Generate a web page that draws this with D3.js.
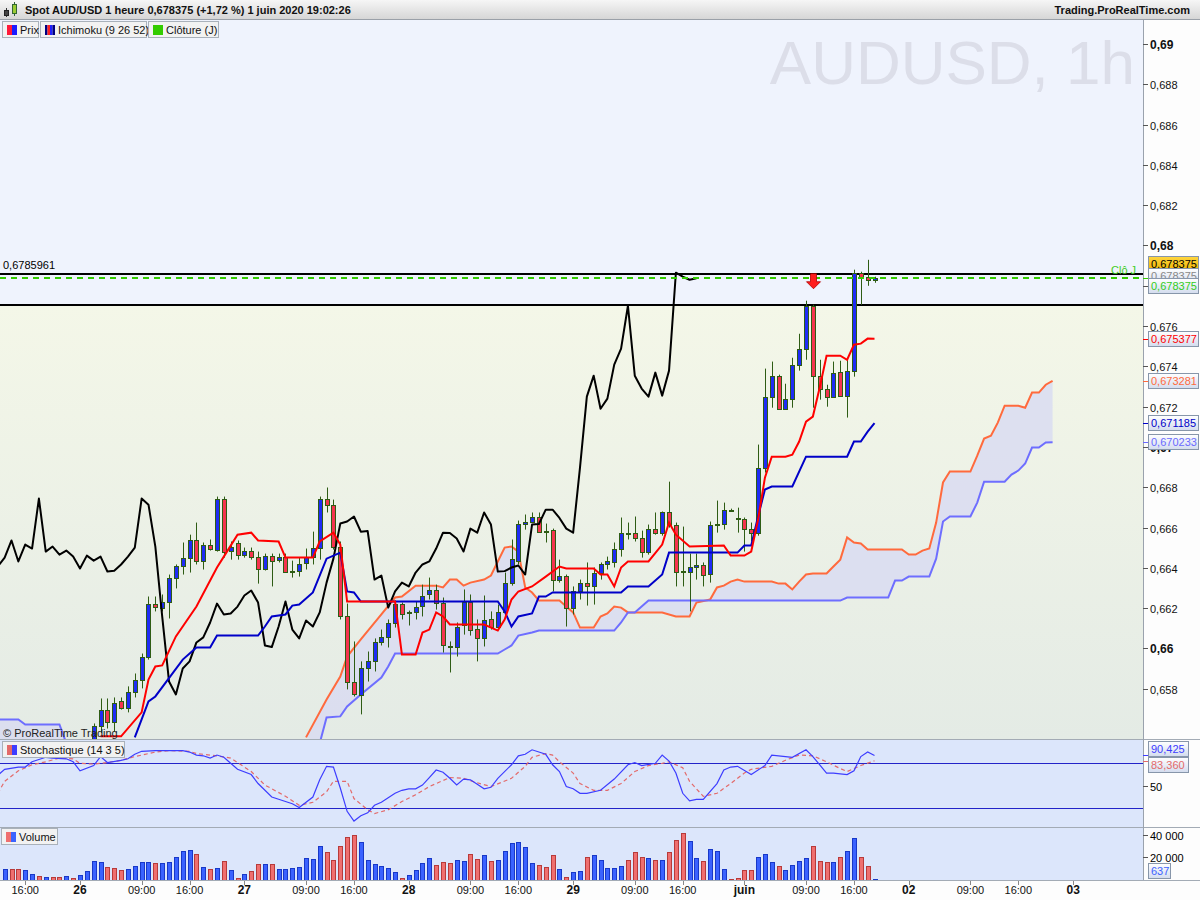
<!DOCTYPE html>
<html>
<head>
<meta charset="utf-8">
<script src="https://cdn.jsdelivr.net/npm/d3@7"></script>
<style>
body { margin: 0; background: #fff; }
svg text { font-family: "Liberation Sans", Arial, sans-serif; }
</style>
</head>
<body>
<script>
// hourly bars, index 0 = 26 May 00:00
var firstBar = 2;
var open = [0.65524,0.65613,0.65697,0.65633,0.65737,0.65707,0.65782,0.65846,0.65960,0.66223,
0.66203,0.66233,0.66352,0.66407,0.66451,0.66536,0.66432,0.66516,0.66491,0.66744,
0.66486,0.66526,0.66466,0.66486,0.66456,0.66397,0.66461,0.66441,0.66456,0.66387,
0.66387,0.66422,0.66456,0.66501,0.66744,0.66714,0.66506,0.66159,0.65836,0.65767,
0.65901,0.65936,0.66030,0.66055,0.66129,0.66223,0.66179,0.66179,0.66213,0.66268,
0.66288,0.66228,0.66010,0.66005,0.66119,0.66233,0.66099,0.66050,0.66144,0.66109,
0.66179,0.66327,0.66432,0.66620,0.66630,0.66655,0.66585,0.66590,0.66342,0.66362,
0.66203,0.66283,0.66327,0.66308,0.66377,0.66417,0.66427,0.66496,0.66575,0.66575,
0.66546,0.66481,0.66595,0.66575,0.66675,0.66615,0.66387,0.66382,0.66402,0.66412,
0.66372,0.66620,0.66620,0.66689,0.66650,0.66645,0.66595,0.66575,0.66898,0.67250,
0.67354,0.67190,0.67240,0.67409,0.67488,0.67701,0.67354,0.67290,0.67250,0.67374,
0.67255,0.67379,0.67865,0.67845,0.67830];
var high = [0.65628,0.65752,0.65752,0.65757,0.65757,0.65812,0.65876,0.65975,0.66258,0.66258,
0.66268,0.66367,0.66417,0.66526,0.66565,0.66625,0.66526,0.66541,0.66754,0.66754,
0.66531,0.66536,0.66501,0.66501,0.66481,0.66471,0.66471,0.66471,0.66471,0.66436,
0.66451,0.66496,0.66580,0.66754,0.66799,0.66739,0.66531,0.66223,0.66035,0.65936,
0.65985,0.66050,0.66094,0.66144,0.66238,0.66228,0.66188,0.66233,0.66317,0.66352,
0.66317,0.66253,0.66035,0.66129,0.66293,0.66268,0.66144,0.66263,0.66184,0.66218,
0.66377,0.66541,0.66635,0.66665,0.66675,0.66675,0.66620,0.66595,0.66441,0.66367,
0.66308,0.66342,0.66427,0.66402,0.66427,0.66456,0.66526,0.66650,0.66625,0.66655,
0.66585,0.66615,0.66675,0.66680,0.66828,0.66625,0.66605,0.66471,0.66471,0.66427,
0.66630,0.66734,0.66724,0.66694,0.66699,0.66650,0.66625,0.67012,0.67389,0.67424,
0.67359,0.67314,0.67443,0.67562,0.67726,0.67706,0.67433,0.67309,0.67424,0.67428,
0.67443,0.67880,0.67870,0.67929,0.67845];
var low = [0.65489,0.65583,0.65603,0.65588,0.65697,0.65683,0.65757,0.65802,0.65945,0.66184,
0.66184,0.66149,0.66298,0.66367,0.66377,0.66417,0.66392,0.66486,0.66481,0.66451,
0.66441,0.66441,0.66451,0.66441,0.66322,0.66387,0.66308,0.66427,0.66377,0.66352,
0.66357,0.66392,0.66417,0.66441,0.66675,0.66491,0.66144,0.65797,0.65762,0.65673,
0.65836,0.65886,0.66015,0.66005,0.66104,0.66144,0.66114,0.66144,0.66159,0.66243,
0.66193,0.65980,0.65881,0.65960,0.66069,0.66064,0.65936,0.66010,0.66094,0.66099,
0.66149,0.66312,0.66417,0.66590,0.66625,0.66575,0.66526,0.66283,0.66327,0.66109,
0.66169,0.66243,0.66213,0.66218,0.66342,0.66392,0.66402,0.66456,0.66541,0.66531,
0.66451,0.66466,0.66565,0.66560,0.66600,0.66308,0.66308,0.66184,0.66342,0.66308,
0.66327,0.66575,0.66590,0.66684,0.66575,0.66481,0.66531,0.66560,0.66873,0.67195,
0.67185,0.67185,0.67195,0.67379,0.67433,0.67195,0.67235,0.67200,0.67245,0.67250,
0.67146,0.67349,0.67706,0.67800,0.67815];
var close = [0.65613,0.65697,0.65633,0.65732,0.65707,0.65782,0.65846,0.65960,0.66223,0.66208,
0.66233,0.66352,0.66407,0.66451,0.66536,0.66432,0.66516,0.66496,0.66744,0.66481,
0.66506,0.66466,0.66486,0.66456,0.66397,0.66461,0.66436,0.66456,0.66382,0.66386,
0.66417,0.66456,0.66501,0.66744,0.66714,0.66506,0.66159,0.65836,0.65772,0.65901,
0.65936,0.66030,0.66055,0.66129,0.66223,0.66169,0.66174,0.66208,0.66263,0.66288,
0.66228,0.66015,0.66007,0.66109,0.66233,0.66094,0.66050,0.66139,0.66109,0.66179,
0.66327,0.66446,0.66620,0.66630,0.66655,0.66580,0.66583,0.66342,0.66362,0.66203,
0.66283,0.66327,0.66308,0.66377,0.66417,0.66432,0.66496,0.66575,0.66573,0.66546,
0.66481,0.66595,0.66575,0.66675,0.66615,0.66382,0.66384,0.66402,0.66412,0.66367,
0.66615,0.66618,0.66689,0.66689,0.66648,0.66595,0.66575,0.66898,0.67250,0.67354,
0.67190,0.67240,0.67409,0.67488,0.67701,0.67354,0.67290,0.67250,0.67369,0.67255,
0.67379,0.67865,0.67845,0.67830,0.678375];

// Ichimoku (9 26 52), vertices as [bar, price]
var tenkan = [[3,0.65564],[6,0.65564],[9,0.65683],[10,0.65846],[11,0.65911],[12,0.65916],[14,0.66060],[17,0.66208],
[20,0.66402],[21,0.66456],[23,0.66565],[25,0.66575],[26,0.66536],[29,0.66531],[30,0.66451],[34,0.66451],[35,0.66531],
[37,0.66575],[38,0.66516],[39,0.66233],[46,0.66233],[47,0.65970],[49,0.65970],[50,0.66079],[51,0.66094],[52,0.66179],
[53,0.66159],[54,0.66119],[59,0.66119],[61,0.66089],[62,0.66144],[63,0.66243],[64,0.66283],[66,0.66308],[68,0.66357],
[70,0.66407],[71,0.66397],[75,0.66397],[76,0.66367],[77,0.66367],[78,0.66308],[79,0.66402],[80,0.66432],[83,0.66432],
[85,0.66516],[86,0.66625],[87,0.66565],[89,0.66506],[94,0.66511],[95,0.66461],[97,0.66461],[98,0.66481],[99,0.66640],
[100,0.66848],[101,0.66952],[103,0.66952],[104,0.66962],[105,0.67027],[106,0.67126],[107,0.67151],[108,0.67295],
[109,0.67453],[111,0.67453],[112,0.67433],[113,0.67508],[114,0.67513],[115,0.67538],[116,0.675377]];
var kijun = [[8,0.65559],[10,0.65737],[11,0.65762],[15,0.65945],[17,0.66005],[19,0.66005],[20,0.66064],[26,0.66064],
[27,0.66109],[28,0.66159],[30,0.66169],[31,0.66213],[32,0.66218],[34,0.66278],[36,0.66446],[38,0.66476],[39,0.66283],
[40,0.66278],[41,0.66233],[61,0.66233],[62,0.66184],[63,0.66109],[64,0.66159],[66,0.66174],[67,0.66258],[68,0.66258],
[69,0.66278],[79,0.66278],[80,0.66308],[83,0.66308],[85,0.66367],[86,0.66476],[96,0.66476],[97,0.66511],[98,0.66511],
[99,0.66655],[100,0.66789],[101,0.66804],[104,0.66804],[106,0.66952],[112,0.66952],[113,0.67027],[114,0.67027],
[115,0.67076],[116,0.671185]];
var senkouA = [[33,0.65559],[36,0.65747],[38,0.65861],[39,0.65960],[41,0.66045],[44,0.66169],[46,0.66253],[47,0.66258],
[49,0.66312],[52,0.66312],[53,0.66303],[54,0.66342],[55,0.66342],[56,0.66312],[57,0.66327],[59,0.66342],[60,0.66362],
[61,0.66432],[62,0.66501],[63,0.66506],[64,0.66481],[65,0.66303],[66,0.66278],[67,0.66238],[70,0.66238],[71,0.66208],
[72,0.66179],[73,0.66104],[75,0.66104],[76,0.66159],[77,0.66174],[78,0.66208],[79,0.66203],[80,0.66179],[85,0.66179],
[87,0.66159],[89,0.66159],[90,0.66228],[92,0.66243],[93,0.66303],[94,0.66312],[95,0.66332],[96,0.66342],[97,0.66332],
[101,0.66332],[102,0.66322],[103,0.66322],[104,0.66293],[105,0.66332],[106,0.66367],[107,0.66372],[109,0.66372],
[110,0.66407],[111,0.66441],[112,0.66551],[113,0.66526],[114,0.66521],[115,0.66491],[120,0.66491],[121,0.66466],
[122,0.66466],[123,0.66486],[124,0.66496],[125,0.66625],[126,0.66824],[127,0.66878],[130,0.66878],[131,0.66957],
[132,0.67042],[133,0.67056],[134,0.67121],[135,0.67205],[137,0.67205],[138,0.67195],[139,0.67270],[140,0.67270],
[141,0.67309],[142,0.673281]];
var senkouBEarly = [[-12,0.65648],[-9,0.65648],[-8,0.65623],[-3,0.65623],[-2,0.65530]];
var senkouB = [[35,0.65530],[36,0.65658],[38,0.65663],[39,0.65712],[41,0.65772],[44,0.65856],[45,0.65911],[46,0.65975],
[61,0.65975],[62,0.65995],[63,0.66015],[64,0.66064],[66,0.66079],[67,0.66089],[78,0.66089],[79,0.66129],[80,0.66179],
[81,0.66179],[82,0.66208],[83,0.66238],[111,0.66238],[112,0.66253],[118,0.66253],[119,0.66337],[120,0.66337],
[121,0.66357],[124,0.66357],[125,0.66446],[126,0.66630],[127,0.66655],[130,0.66655],[131,0.66724],[132,0.66828],
[135,0.66828],[136,0.66863],[137,0.66883],[138,0.66918],[139,0.66997],[140,0.66997],[141,0.67022],[142,0.670233]];
var chikouShift = 26;

// horizontal levels and signal
var resistanceHigh = 0.6785961;
var resistanceLow = 0.67705;
var dailyClose = 0.678375;
var sellSignals = [107];

// Stochastique (14 3 5)
var stochK = [[-12,64],[-11,72],[-9,75],[-8,75],[-7,82],[-5,88],[-4,87],[-2,86],[-1,82],[0,70],[2,77],[3,89],[4,81],
[6,84],[7,86],[8,92],[9,96],[11,97],[13,97],[15,97],[16,95],[17,91],[18,90],[19,87],[20,91],[21,88],[22,80],[23,72],
[25,65],[26,53],[28,35],[29,32],[31,26],[32,21],[34,35],[35,58],[36,76],[37,75],[38,47],[39,16],[40,3],[41,10],[42,14],
[43,24],[44,28],[45,34],[46,40],[47,44],[48,46],[49,46],[50,51],[51,61],[52,71],[53,68],[54,60],[55,51],[56,59],[57,58],
[58,52],[59,46],[60,48],[61,60],[63,78],[64,90],[65,92],[66,98],[67,95],[68,92],[69,78],[70,69],[71,49],[72,46],[73,40],
[74,40],[76,44],[78,59],[80,78],[81,81],[82,77],[84,80],[85,91],[86,83],[87,67],[88,40],[89,30],[90,32],[91,32],[93,53],
[94,71],[95,75],[96,76],[98,65],[100,77],[101,91],[103,89],[104,88],[106,98],[107,89],[109,67],[110,67],[112,65],
[113,70],[114,89],[115,95],[116,90.425]];
var stochD = [[-12,40],[-11,56],[-9,70],[-7,78],[-5,82],[-3,87],[-1,86],[0,80],[2,79],[4,81],[6,84],[8,89],[11,95],
[13,97],[16,96],[17,93],[20,90],[22,87],[23,81],[25,69],[27,51],[30,36],[32,24],[34,28],[36,42],[37,56],[39,56],[40,33],
[42,18],[43,13],[45,18],[47,29],[49,38],[51,49],[54,61],[56,60],[58,54],[60,49],[63,60],[65,76],[66,88],[68,93],[69,91],
[70,82],[72,67],[73,53],[75,44],[77,44],[79,53],[81,69],[83,77],[85,80],[86,82],[88,74],[89,56],[91,36],[93,40],[95,53],
[97,67],[98,72],[101,76],[103,84],[105,91],[107,90],[109,82],[111,73],[112,69],[114,77],[116,83.36]];

// volume, bars -11 .. 116
var volStart = -11;
var volume = [9500,9500,9500,8600,4700,2900,2000,2000,2000,2900,1100,3800,7400,
16400,15500,11000,10100,8300,9200,11900,15500,15500,14600,14600,15500,20000,25400,26300,22700,
11000,9200,10100,16400,8300,1100,4700,7400,13700,13700,13700,9200,9200,10100,11000,19100,
18200,29800,24500,17300,29800,37900,39700,33400,17300,13700,11900,10100,6500,1100,3800,8300,
14600,19100,12800,15500,14600,17300,16400,22700,18200,21800,16400,17300,25400,32500,33400,28900,
14600,12800,11000,21800,9200,2000,6500,7400,20000,21800,17300,10100,10100,11900,17300,24500,
20000,19100,17300,17300,24500,35200,41500,34300,19100,16400,27200,25400,9200,300,1400,8300,
8300,20000,22700,15500,11900,8300,12800,16400,19100,29800,16400,15500,15500,20000,25400,37000,
20000,11900,637];
var volumeDir = "UDDUUDUDDUDUU" + "UUDDDUUUUD" + "UUUUUDUDUD" + "UDUDDUDUUU" + "UUUUDDDDDU" +
  "UUUUUDUUUU" + "DDDUUDDUDU" + "UUUUUDDDUD" + "UUDUUUUUDD" + "DUDUDDDUUD" + "UUUDDDDUUU" +
  "DUUUUDDDUD" + "UUDDU";

// time axis labels
var xLabels = [[-8,"16:00"],[0,"26"],[9,"09:00"],[16,"16:00"],[24,"27"],[33,"09:00"],[40,"16:00"],
[48,"28"],[57,"09:00"],[64,"16:00"],[72,"29"],[81,"09:00"],[88,"16:00"],[97,"juin"],[106,"09:00"],
[113,"16:00"],[121,"02"],[130,"09:00"],[137,"16:00"],[145,"03"]];
var priceTicks = d3.range(0.658, 0.6901, 0.002);
var volTicks = [20000, 40000];

function graph(){
	var width = 1200, height = 900, plotW = 1143;
	var price = {top: 20, bottom: 739},
		stoch = {top: 740, bottom: 827},
		vol = {top: 828, bottom: 880};

	var x = d3.scaleLinear().domain([-11.68, 155.2]).range([0, plotW]);
	var y = d3.scaleLinear().domain([0.658, 0.69]).range([688.8, 44]);
	var yStoch = d3.scaleLinear().domain([0, 100]).range([823.3, 748.3]);
	var yVol = d3.scaleLinear().domain([0, 40000]).range([879.6, 835]);

	var comma = function(v){ return String(+v.toFixed(3)).replace(".", ","); };
	var px = function(i){ return Math.round(x(i)) + 0.5; };

	var svg = d3.select("body")
				.append("svg")
				.attr("width", width)
				.attr("height", height);
	var defs = svg.append("defs");

	var g1 = defs.append("linearGradient").attr("id", "gPrice")
		.attr("gradientUnits", "userSpaceOnUse").attr("x1", 0).attr("x2", 0)
		.attr("y1", y(resistanceLow)).attr("y2", price.bottom);
	g1.append("stop").attr("offset", 0).attr("stop-color", "#f4f7e8");
	g1.append("stop").attr("offset", 1).attr("stop-color", "#e4ebe5");
	var g2 = defs.append("linearGradient").attr("id", "gHead").attr("x1", 0).attr("x2", 0).attr("y1", 0).attr("y2", 1);
	g2.append("stop").attr("offset", 0).attr("stop-color", "#f6f6f6");
	g2.append("stop").attr("offset", 1).attr("stop-color", "#d6d6d6");
	var g3 = defs.append("linearGradient").attr("id", "gBox").attr("x1", 0).attr("x2", 0).attr("y1", 0).attr("y2", 1);
	g3.append("stop").attr("offset", 0).attr("stop-color", "#ffffff");
	g3.append("stop").attr("offset", 1).attr("stop-color", "#d3dcee");
	var g4 = defs.append("linearGradient").attr("id", "gGold").attr("x1", 0).attr("x2", 0).attr("y1", 0).attr("y2", 1);
	g4.append("stop").attr("offset", 0).attr("stop-color", "#ffd640");
	g4.append("stop").attr("offset", 1).attr("stop-color", "#eeb400");

	function clip(id, top, bottom){
		defs.append("clipPath").attr("id", id).append("rect")
			.attr("x", 0).attr("y", top).attr("width", plotW).attr("height", bottom - top);
	}
	clip("cPrice", price.top, price.bottom);
	clip("cStoch", stoch.top, stoch.bottom);
	clip("cVol", vol.top, vol.bottom);

	// backgrounds
	svg.append("rect").attr("width", width).attr("height", height).attr("fill", "#fdfdfd");
	svg.append("rect").attr("x", 0).attr("y", price.top).attr("width", plotW)
		.attr("height", price.bottom - price.top).attr("fill", "url(#gPrice)");
	svg.append("rect").attr("x", 0).attr("y", price.top).attr("width", plotW)
		.attr("height", y(resistanceLow) - price.top).attr("fill", "#eff3fd");
	svg.append("rect").attr("x", 0).attr("y", stoch.top).attr("width", plotW)
		.attr("height", stoch.bottom - stoch.top).attr("fill", "#dce6fb");
	svg.append("rect").attr("x", 0).attr("y", vol.top).attr("width", plotW)
		.attr("height", vol.bottom - vol.top).attr("fill", "#dce6fb");

	// watermark
	svg.append("text").attr("x", 1135).attr("y", 84).attr("text-anchor", "end")
		.attr("font-size", 62).attr("fill", "#dcdee9").text("AUDUSD, 1h");

	// ---------- price panel ----------
	var gp = svg.append("g").attr("clip-path", "url(#cPrice)");
	var line = d3.line().x(function(d){ return x(d[0]); }).y(function(d){ return y(d[1]); });

	// kumo
	var bottomPx = price.bottom + 10;
	var cloudPts = senkouA.concat(senkouB.slice().reverse()).map(function(d){ return [x(d[0]), y(d[1])]; });
	var earlyPts = senkouBEarly.map(function(d){ return [x(d[0]), y(d[1])]; });
	earlyPts.push([x(senkouBEarly[senkouBEarly.length - 1][0]), bottomPx], [x(senkouBEarly[0][0]), bottomPx]);
	[cloudPts, earlyPts].forEach(function(p){
		gp.append("path").attr("d", d3.line()(p) + "Z")
			.attr("fill", "#d9dcf1").attr("fill-opacity", 0.85);
	});
	gp.append("path").datum(senkouA).attr("d", line).attr("fill", "none")
		.attr("stroke", "#ff6a3d").attr("stroke-width", 2);
	[senkouBEarly, senkouB].forEach(function(s){
		gp.append("path").datum(s).attr("d", line).attr("fill", "none")
			.attr("stroke", "#6e6eff").attr("stroke-width", 2);
	});

	// levels
	[resistanceHigh, resistanceLow].forEach(function(v){
		gp.append("line").attr("x1", 0).attr("x2", plotW)
			.attr("y1", Math.round(y(v))).attr("y2", Math.round(y(v)))
			.attr("stroke", "#000").attr("stroke-width", 2);
	});

	// candles
	var bars = close.map(function(c, k){
		return {i: firstBar + k, o: open[k], h: high[k], l: low[k], c: c};
	});
	gp.selectAll(".wick").data(bars).enter().append("line")
		.attr("x1", function(d){ return px(d.i); })
		.attr("x2", function(d){ return px(d.i); })
		.attr("y1", function(d){ return y(d.h); })
		.attr("y2", function(d){ return y(d.l); })
		.attr("stroke", "#2e5c14").attr("stroke-width", 1);
	gp.selectAll(".body").data(bars).enter().append("rect")
		.attr("x", function(d){ return px(d.i) - 2; })
		.attr("width", 4)
		.attr("y", function(d){ return Math.round(y(Math.max(d.o, d.c))) + 0.5; })
		.attr("height", function(d){
			return Math.max(1, Math.round(y(Math.min(d.o, d.c))) - Math.round(y(Math.max(d.o, d.c))));
		})
		.attr("fill", function(d){ return d.c >= d.o ? "#1f2cf5" : "#f5344f"; })
		.attr("stroke", "#2e5c14").attr("stroke-width", 1);

	// tenkan, kijun, chikou
	var chikou = bars.map(function(d){ return [d.i - chikouShift, d.c]; })
		.filter(function(d){ return d[0] >= -12; });
	gp.append("path").datum(chikou).attr("d", line).attr("fill", "none")
		.attr("stroke", "#000").attr("stroke-width", 2).attr("stroke-linejoin", "round");
	gp.append("path").datum(kijun).attr("d", line).attr("fill", "none")
		.attr("stroke", "#0000c8").attr("stroke-width", 2);
	gp.append("path").datum(tenkan).attr("d", line).attr("fill", "none")
		.attr("stroke", "#ff0000").attr("stroke-width", 2);

	// daily close
	gp.append("line").attr("x1", 0).attr("x2", plotW)
		.attr("y1", Math.round(y(dailyClose))).attr("y2", Math.round(y(dailyClose)))
		.attr("stroke", "#33cc00").attr("stroke-width", 2).attr("stroke-dasharray", "6,5");
	svg.append("text").attr("x", 1111).attr("y", y(dailyClose) - 4)
		.attr("font-size", 11).attr("fill", "#44cc22").text("Clô J");

	// sell arrow
	sellSignals.forEach(function(i){
		var bar = bars[i - firstBar];
		var cx = px(i), tip = y(bar.h) - 16;
		gp.append("path")
			.attr("d", "M" + (cx - 3) + "," + (tip - 15) + "h6v8h4l-7,7l-7,-7h4z")
			.attr("fill", "#ff1e1e").attr("stroke", "#b00000").attr("stroke-width", 0.8);
	});

	svg.append("text").attr("x", 3).attr("y", y(resistanceHigh) - 5)
		.attr("font-size", 11).attr("fill", "#000").text(resistanceHigh.toFixed(7).replace(".", ","));
	svg.append("text").attr("x", 3).attr("y", 737)
		.attr("font-size", 11).attr("fill", "#222").text("© ProRealTime Trading");

	// ---------- stochastic ----------
	var gs = svg.append("g").attr("clip-path", "url(#cStoch)");
	[80, 20].forEach(function(v){
		gs.append("line").attr("x1", 0).attr("x2", plotW)
			.attr("y1", Math.round(yStoch(v)) + 0.5).attr("y2", Math.round(yStoch(v)) + 0.5)
			.attr("stroke", "#2323c8").attr("stroke-width", 1);
	});
	var sline = d3.line().x(function(d){ return x(d[0]); }).y(function(d){ return yStoch(d[1]); });
	gs.append("path").datum(stochD).attr("d", sline).attr("fill", "none")
		.attr("stroke", "#e36a6a").attr("stroke-width", 1.2).attr("stroke-dasharray", "4,3");
	gs.append("path").datum(stochK).attr("d", sline).attr("fill", "none")
		.attr("stroke", "#3d3dff").attr("stroke-width", 1.2);

	// ---------- volume ----------
	var gv = svg.append("g").attr("clip-path", "url(#cVol)");
	var vbars = volume.map(function(v, k){ return {i: volStart + k, v: v, up: volumeDir[k] === "U"}; });
	gv.selectAll(".vol").data(vbars).enter().append("rect")
		.attr("x", function(d){ return px(d.i) - 2; })
		.attr("width", 4)
		.attr("y", function(d){ return Math.round(yVol(d.v)) + 0.5; })
		.attr("height", function(d){ return Math.max(0.5, Math.round(yVol(0)) - Math.round(yVol(d.v))); })
		.attr("fill", function(d){ return d.up ? "#3a62ff" : "#ef6f6f"; })
		.attr("stroke", function(d){ return d.up ? "#1838c8" : "#b83a3a"; })
		.attr("stroke-width", 1);

	// ---------- panel frames ----------
	[price.bottom, stoch.bottom, vol.bottom].forEach(function(v){
		svg.append("line").attr("x1", 0).attr("x2", width).attr("y1", v + 0.5).attr("y2", v + 0.5)
			.attr("stroke", "#a3abb5").attr("stroke-width", 1);
	});
	svg.append("line").attr("x1", plotW + 0.5).attr("x2", plotW + 0.5).attr("y1", price.top).attr("y2", vol.bottom)
		.attr("stroke", "#9aa2ad").attr("stroke-width", 1);

	// right price axis (0,678 sits under the price tags, as in the original)
	var gy = svg.append("g");
	priceTicks.forEach(function(v){
		var major = Math.abs(v * 100 - Math.round(v * 100)) < 1e-6;
		var yy = Math.round(y(v)) + 0.5;
		gy.append("line").attr("x1", plotW).attr("x2", plotW + 5).attr("y1", yy).attr("y2", yy)
			.attr("stroke", "#555");
		if (Math.abs(v - 0.678) < 1e-6) return;
		gy.append("text").attr("x", plotW + 7).attr("y", yy + 4).attr("font-size", major ? 12 : 11)
			.attr("font-weight", major ? "bold" : "normal").attr("fill", "#111").text(comma(v));
	});

	function tag(value, dy, color, fill, txt){
		var yy = Math.round(y(value)) + dy;
		gy.append("line").attr("x1", plotW).attr("x2", plotW + 5).attr("y1", Math.round(y(value)) + 0.5)
			.attr("y2", Math.round(y(value)) + 0.5).attr("stroke", color);
		gy.append("rect").attr("x", plotW + 5.5).attr("y", yy - 7.5).attr("width", 50).attr("height", 15)
			.attr("fill", fill).attr("stroke", "#8796aa").attr("stroke-width", 1);
		gy.append("text").attr("x", plotW + 8).attr("y", yy + 4).attr("font-size", 11)
			.attr("fill", txt).text(value.toFixed(6).replace(".", ","));
	}
	var lastA = senkouA[senkouA.length - 1][1], lastB = senkouB[senkouB.length - 1][1];
	var lastT = tenkan[tenkan.length - 1][1], lastK = kijun[kijun.length - 1][1];
	var lastC = close[close.length - 1];
	tag(lastC, -14, "#c89a00", "url(#gGold)", "#000");
	tag(lastC, -2, "#888", "url(#gBox)", "#888");
	tag(dailyClose, 8, "#33cc00", "url(#gBox)", "#33cc22");
	tag(lastT, 0, "#ff0000", "url(#gBox)", "#ff0000");
	tag(lastA, 0, "#ff6a3d", "url(#gBox)", "#ff6a3d");
	tag(lastK, 0, "#0000c8", "url(#gBox)", "#0000c8");
	tag(lastB, 0, "#6a6aff", "url(#gBox)", "#6a6aff");

	// stochastic axis
	var y50 = Math.round(yStoch(50)) + 0.5;
	gy.append("line").attr("x1", plotW).attr("x2", plotW + 5).attr("y1", y50).attr("y2", y50).attr("stroke", "#555");
	gy.append("text").attr("x", plotW + 7).attr("y", y50 + 4).attr("font-size", 11).text("50");
	function stag(value, yy, color){
		gy.append("line").attr("x1", plotW).attr("x2", plotW + 5).attr("y1", Math.round(yStoch(value)) + 0.5)
			.attr("y2", Math.round(yStoch(value)) + 0.5).attr("stroke", color);
		gy.append("rect").attr("x", plotW + 5.5).attr("y", yy - 7.5).attr("width", 40).attr("height", 15)
			.attr("fill", "url(#gBox)").attr("stroke", "#8796aa");
		gy.append("text").attr("x", plotW + 8).attr("y", yy + 4).attr("font-size", 11)
			.attr("fill", color).text(value.toFixed(3).replace(".", ","));
	}
	var kLast = stochK[stochK.length - 1][1], dLast = stochD[stochD.length - 1][1];
	stag(kLast, Math.round(yStoch(kLast)) - 6, "#3d3dff");
	stag(dLast, Math.round(yStoch(kLast)) + 10, "#e36a6a");

	// volume axis
	var vfmt = d3.formatLocale({decimal: ",", thousands: " ", grouping: [3], currency: ["", ""]}).format(",d");
	volTicks.forEach(function(v){
		var yy = Math.round(yVol(v)) + 0.5;
		gy.append("line").attr("x1", plotW).attr("x2", plotW + 5).attr("y1", yy).attr("y2", yy).attr("stroke", "#555");
		gy.append("text").attr("x", plotW + 7).attr("y", yy + 4).attr("font-size", 11).text(vfmt(v));
	});
	var vLast = volume[volume.length - 1];
	gy.append("rect").attr("x", plotW + 5.5).attr("y", 863.5).attr("width", 22).attr("height", 15)
		.attr("fill", "url(#gBox)").attr("stroke", "#8796aa");
	gy.append("text").attr("x", plotW + 8).attr("y", 875).attr("font-size", 11).attr("fill", "#3d62ff").text(vfmt(vLast));

	// time axis
	var gx = svg.append("g");
	xLabels.forEach(function(d){
		var bold = d[1].indexOf(":") < 0;
		gx.append("line").attr("x1", px(d[0])).attr("x2", px(d[0])).attr("y1", vol.bottom + 1).attr("y2", vol.bottom + 5)
			.attr("stroke", "#888");
		gx.append("text").attr("x", x(d[0])).attr("y", 894).attr("text-anchor", "middle")
			.attr("font-size", bold ? 12 : 11).attr("font-weight", bold ? "bold" : "normal")
			.attr("fill", "#111").text(d[1]);
	});

	// ---------- header and legends ----------
	svg.append("rect").attr("x", 0).attr("y", 0).attr("width", width).attr("height", 19).attr("fill", "url(#gHead)");
	svg.append("line").attr("x1", 0).attr("x2", width).attr("y1", 19.5).attr("y2", 19.5).attr("stroke", "#9aa0a8");
	svg.append("line").attr("x1", 6.5).attr("x2", 6.5).attr("y1", 8).attr("y2", 17).attr("stroke", "#333");
	svg.append("rect").attr("x", 4.5).attr("y", 10.5).attr("width", 4).attr("height", 5).attr("fill", "#444").attr("stroke", "#222");
	svg.append("line").attr("x1", 14.5).attr("x2", 14.5).attr("y1", 2).attr("y2", 16).attr("stroke", "#363");
	svg.append("rect").attr("x", 12.5).attr("y", 4.5).attr("width", 4).attr("height", 9).attr("fill", "#9c3").attr("stroke", "#363");
	svg.append("text").attr("x", 25).attr("y", 14).attr("font-size", 11).attr("font-weight", "bold")
		.attr("fill", "#111").text("Spot AUD/USD 1 heure 0,678375 (+1,72 %) 1 juin 2020 19:02:26");
	svg.append("text").attr("x", 1190).attr("y", 14).attr("text-anchor", "end").attr("font-size", 11)
		.attr("font-weight", "bold").attr("fill", "#111").text("Trading.ProRealTime.com");

	function legend(x0, y0, w, label, colors){
		var g = svg.append("g");
		g.append("rect").attr("x", x0 + 0.5).attr("y", y0 + 0.5).attr("width", w).attr("height", 16)
			.attr("fill", "#f2f2f2").attr("stroke", "#a9b1ba");
		var cw = 10 / colors.length;
		colors.forEach(function(c, k){
			g.append("rect").attr("x", x0 + 5 + k * cw).attr("y", y0 + 4).attr("width", cw).attr("height", 10).attr("fill", c);
		});
		g.append("text").attr("x", x0 + 18).attr("y", y0 + 13).attr("font-size", 11).attr("fill", "#111").text(label);
	}
	legend(2, 21, 36, "Prix", ["#ff1a3a", "#1a1aff"]);
	legend(40, 21, 106, "Ichimoku (9 26 52)", ["#000080", "#ff2020", "#2020ff", "#000080"]);
	legend(148, 21, 70, "Clôture (J)", ["#33cc00"]);
	legend(2, 741, 122, "Stochastique (14 3 5)", ["#e36a6a", "#3d3dff"]);
	legend(1, 828, 56, "Volume", ["#ef6f6f", "#3a62ff"]);
}

graph()
</script>
</body>
</html>
